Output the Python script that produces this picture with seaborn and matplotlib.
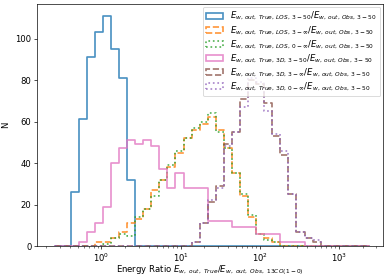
import numpy as np
import matplotlib
matplotlib.use("Agg")
import matplotlib.pyplot as plt
from matplotlib.patches import Patch
import seaborn as sns

# bin edges in log10 space (~0.1 dex wide)
log_edges = np.linspace(-0.594, -0.594 + 39 * 0.102, 40)
centers = 10 ** ((log_edges[:-1] + log_edges[1:]) / 2)


def counts(start, values, n=39):
    arr = np.zeros(n)
    arr[start:start + len(values)] = values
    return arr


# counts per bin
los_3_50 = counts(2, [26, 61, 91, 103, 111, 95, 81, 32])
los_3_inf = counts(5, [2, 2, 4, 7, 11, 13, 18, 27, 32, 38, 45, 52, 56, 59, 62,
                       56, 47, 35, 24, 14, 6, 4, 2])
los_0_inf = counts(6, [1, 4, 6, 5, 14, 18, 24, 32, 39, 46, 52, 57, 60, 64,
                       55, 47, 35, 25, 15, 6, 3, 2])
d3_3_50 = counts(3, [2, 7, 11, 19, 40, 47, 51, 49, 51, 48, 37, 28, 35, 28, 28,
                     28, 12, 12, 12, 9, 9, 9, 6, 6, 6, 2, 2, 2])
d3_3_inf = counts(17, [2, 11, 21, 29, 49, 55, 71, 80, 78, 69, 53, 44, 25, 7, 4, 2])
d3_0_inf = counts(17, [2, 11, 22, 28, 48, 55, 67, 81, 79, 65, 54, 46, 25, 7, 4, 3])

labels = [
    r"$E_{w,\, out,\, True,\, LOS,\, 3-50}/E_{w,\, out,\, Obs,\, 3-50}$",
    r"$E_{w,\, out,\, True,\, LOS,\, 3-\infty}/E_{w,\, out,\, Obs,\, 3-50}$",
    r"$E_{w,\, out,\, True,\, LOS,\, 0-\infty}/E_{w,\, out,\, Obs,\, 3-50}$",
    r"$E_{w,\, out,\, True,\, 3D,\, 3-50}/E_{w,\, out,\, Obs,\, 3-50}$",
    r"$E_{w,\, out,\, True,\, 3D,\, 3-\infty}/E_{w,\, out,\, Obs,\, 3-50}$",
    r"$E_{w,\, out,\, True,\, 3D,\, 0-\infty}/E_{w,\, out,\, Obs,\, 3-50}$",
]
series = [los_3_50, los_3_inf, los_0_inf, d3_3_50, d3_3_inf, d3_0_inf]
colors = ["tab:blue", "tab:orange", "tab:green", "tab:pink", "tab:brown", "tab:purple"]
styles = ["-", "--", ":", "-", "--", ":"]

dpi = 61
fig, ax = plt.subplots(figsize=(390 / dpi, 278 / dpi), dpi=dpi)
fig.subplots_adjust(left=0.096, right=0.982, bottom=0.115, top=0.985)

handles = []
for vals, color, ls, label in zip(series, colors, styles, labels):
    sns.histplot(
        x=centers, weights=vals, bins=list(log_edges), log_scale=True,
        element="step", fill=False, color=color, linestyle=ls,
        linewidth=2, alpha=0.8, ax=ax,
    )
    handles.append(Patch(facecolor="none", edgecolor=color, linestyle=ls,
                         linewidth=2, alpha=0.8, label=label))

ax.set_xlim(10 ** -0.81, 10 ** 3.56)
ax.set_xlabel(r"Energy Ratio $E_{w,\ out,\ True}/E_{w,\ out,\ Obs,\ 13CO(1-0)}$",
              labelpad=-1)
ax.set_ylabel("N", labelpad=6)
ax.legend(handles=handles, loc="upper right", labelspacing=0.22,
          borderaxespad=0.3)

fig.savefig("out.png", dpi=dpi)
